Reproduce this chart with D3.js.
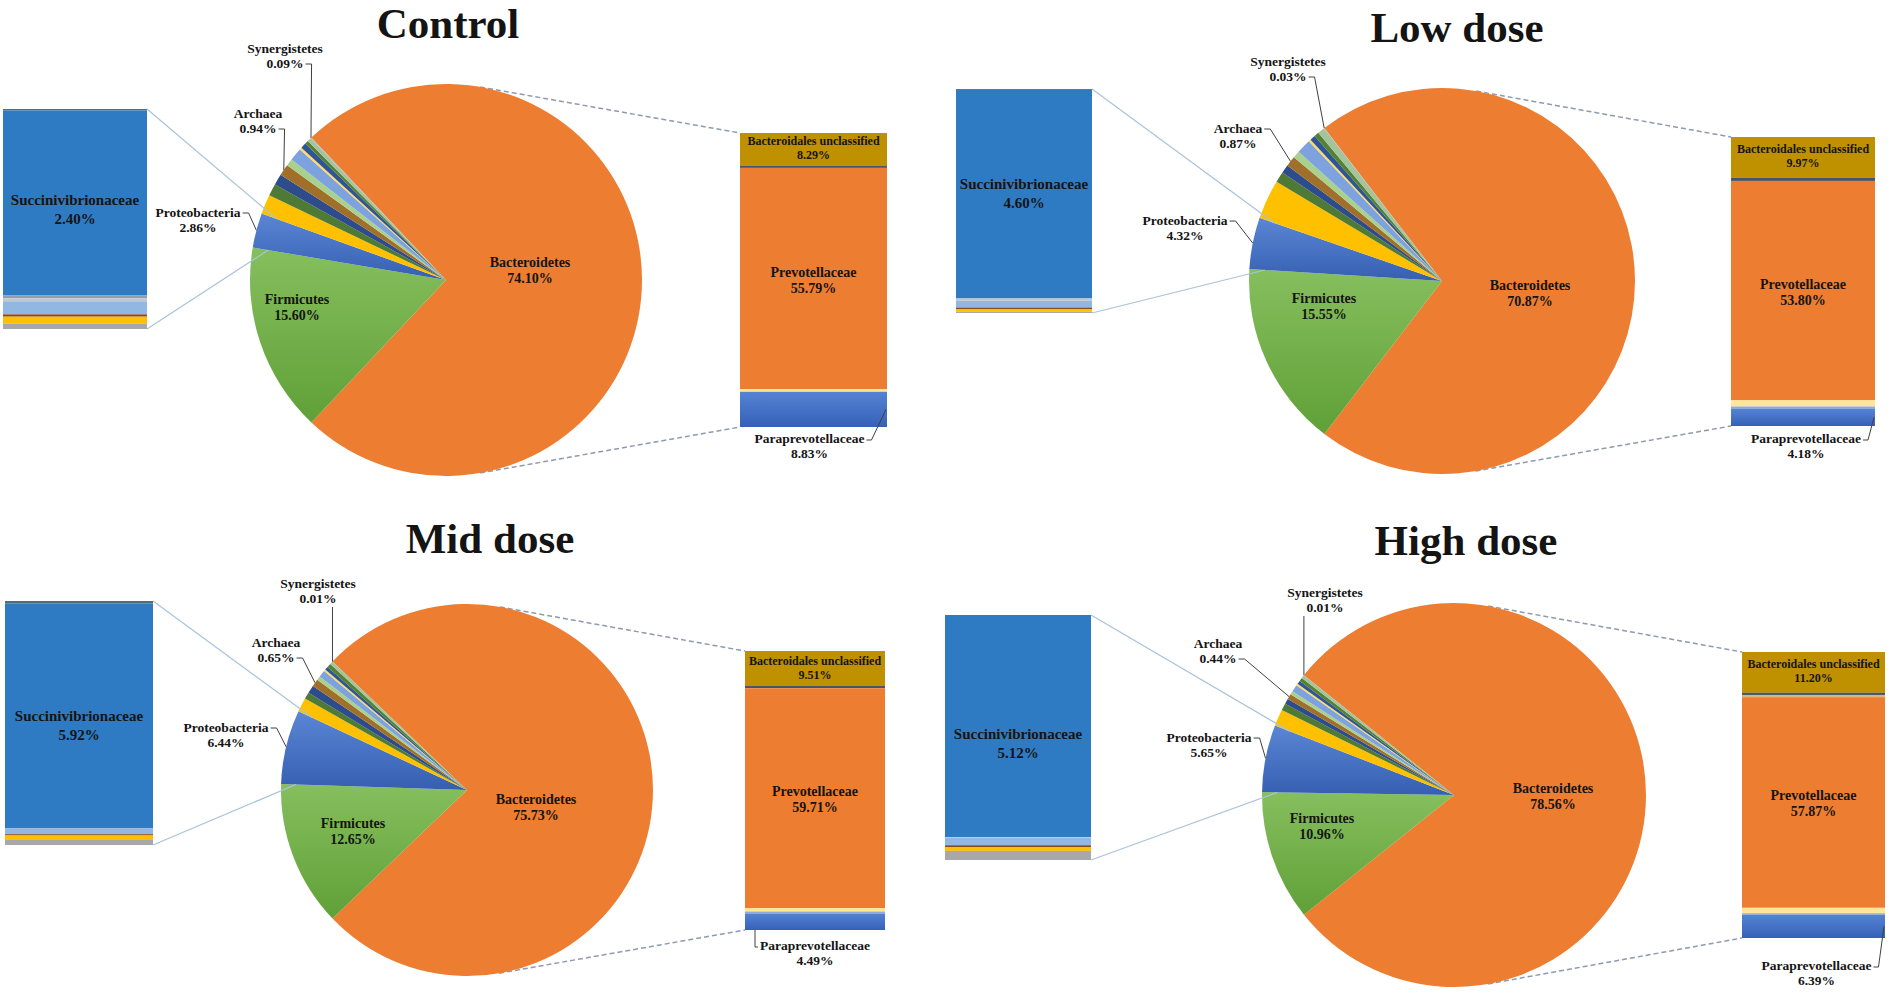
<!DOCTYPE html>
<html>
<head>
<meta charset="utf-8">
<script src="https://cdn.jsdelivr.net/npm/d3@7"></script>
<style>
  body { margin: 0; background: #fff; }
  text { font-family: "Liberation Serif", "Times New Roman", serif; font-weight: bold; fill: #141414; }
</style>
</head>
<body>
<svg id="chart"></svg>
<script>
// ---- data (percent of reads) ----
const groups = ['Control', 'Low dose', 'Mid dose', 'High dose']

// phyla, clockwise starting with Bacteroidetes (unlabelled phyla are the thin slices)
const phyla = ['Bacteroidetes', 'Firmicutes', 'Proteobacteria', 'Other phylum 1', 'Other phylum 2',
  'Other phylum 3', 'Archaea', 'Other phylum 4', 'Other phylum 5', 'Other phylum 6',
  'Other phylum 7', 'Other phylum 8', 'Other phylum 9', 'Synergistetes']
const controlPhyla = [74.10, 15.60, 2.86, 1.60, 1.00, 0.90, 0.94, 0.60, 1.05, 0.20, 0.45, 0.30, 0.31, 0.09]
const lowPhyla     = [70.87, 15.55, 4.32, 3.30, 0.90, 0.70, 0.87, 0.60, 1.20, 0.20, 0.45, 0.40, 0.61, 0.03]
const midPhyla     = [75.73, 12.65, 6.44, 1.22, 0.58, 0.70, 0.65, 0.35, 0.60, 0.15, 0.30, 0.35, 0.27, 0.01]
const highPhyla    = [78.56, 10.96, 5.65, 1.40, 0.60, 0.45, 0.44, 0.30, 0.60, 0.15, 0.30, 0.30, 0.28, 0.01]

// Bacteroidetes split (right bar), top to bottom
const bacteroidetesFamilies = ['Bacteroidales unclassified', 'Other B1', 'Other B2', 'Prevotellaceae',
  'Other B3', 'Other B4', 'Paraprevotellaceae']
const controlBacteroidetes = [8.29, 0.50, 0.00, 55.79, 0.60, 0.09, 8.83]
const lowBacteroidetes     = [9.97, 0.80, 0.00, 53.80, 1.52, 0.60, 4.18]
const midBacteroidetes     = [9.51, 0.60, 0.00, 59.71, 0.90, 0.52, 4.49]
const highBacteroidetes    = [11.20, 0.60, 0.60, 57.87, 1.50, 0.40, 6.39]

// Proteobacteria split (left bar), top to bottom
const proteoFamilies = ['Other P1', 'Succinivibrionaceae', 'Other P2', 'Other P3', 'Other P4',
  'Other P5', 'Other P6', 'Other P7']
const controlProteo = [0.02, 2.40, 0.04, 0.04, 0.17, 0.03, 0.09, 0.07]
const lowProteo     = [0.02, 4.60, 0.00, 0.05, 0.15, 0.04, 0.05, 0.03]
const midProteo     = [0.07, 5.92, 0.00, 0.00, 0.16, 0.035, 0.10, 0.15]
const highProteo    = [0.00, 5.12, 0.00, 0.02, 0.17, 0.05, 0.08, 0.21]

const phylaByGroup = [controlPhyla, lowPhyla, midPhyla, highPhyla]
const bactByGroup = [controlBacteroidetes, lowBacteroidetes, midBacteroidetes, highBacteroidetes]
const proteoByGroup = [controlProteo, lowProteo, midProteo, highProteo]

// ---- styles ----
const phylumColors = ['#ED7D31', 'url(#g-firm)', 'url(#g-proteo)', '#FFC000', '#4E7A35', '#2E4C8C',
  '#A0702A', '#A9D18E', '#7DA2DE', '#FFD966', '#2F5597', '#548235', '#A5C49B', '#B4B4B4']
const bactColors = ['#BF9000', '#44546A', '#D9B77A', '#ED7D31', '#FFE699', '#8FAADC', 'url(#g-para)']
const proteoColors = ['#4E6E7A', '#2E7BC3', '#8E9FB0', '#C3C8CE', '#92B7E3', '#8B4A1C', '#FFC000', '#A8A8A8']

// ---- layout (pixels) ----
// bac / fir: label offset from pie centre [dx, first baseline dy]
const layout = [
  { title: [448, 38], pie: [446, 280, 196], left: [3, 109, 144, 220], right: [740, 133, 147, 294],
    bac: [84, -13], fir: [-149, 24], succDy: 2.5, paraDx: -4, paraDy: 16, paraSide: 'r',
    callouts: { Proteobacteria: [-248, -63, 'r1'], Archaea: [-188, -162, 'r2'], Synergistetes: [-161, -227, 'r2'] } },
  { title: [1457, 42], pie: [1442, 281, 193], left: [956, 89, 136, 224], right: [1731, 137, 144, 289],
    bac: [88, 9], fir: [-118, 22], succDy: -5.5, paraDx: 3, paraDy: 17, paraSide: 'r',
    callouts: { Proteobacteria: [-257, -56, 'r1'], Archaea: [-204, -148, 'r1'], Synergistetes: [-154, -215, 'r2'] } },
  { title: [490, 553], pie: [467, 790, 186], left: [5, 601, 148, 244], right: [745, 651, 140, 279],
    bac: [69, 14], fir: [-114, 38], succDy: 5.5, paraDx: 0, paraDy: 20, paraSide: 'l',
    callouts: { Proteobacteria: [-241, -58, 'r1'], Archaea: [-191, -143, 'r2'], Synergistetes: [-149, -202, 'b'] } },
  { title: [1466, 555], pie: [1454, 795, 192], left: [945, 615, 146, 245], right: [1742, 652, 143, 286],
    bac: [99, -2], fir: [-132, 28], succDy: 12.5, paraDx: 3, paraDy: 32, paraSide: 'r',
    callouts: { Proteobacteria: [-245, -53, 'r1'], Archaea: [-236, -147, 'r2'], Synergistetes: [-129, -198, 'b'] } }
]

const W = 1900, H = 1001
const svg = d3.select('#chart').attr('width', W).attr('height', H)
svg.append('rect').attr('width', W).attr('height', H).attr('fill', '#fff')

const defs = svg.append('defs')
function gradient(id, top, bottom) {
  const lg = defs.append('linearGradient').attr('id', id)
    .attr('x1', 0).attr('y1', 0).attr('x2', 0).attr('y2', 1)
  lg.append('stop').attr('offset', '0%').attr('stop-color', top)
  lg.append('stop').attr('offset', '100%').attr('stop-color', bottom)
}
gradient('g-firm', '#86BF5E', '#60A038')
gradient('g-proteo', '#5A86D4', '#365FB2')
gradient('g-para', '#5583D3', '#3560B8')

function twoLines(sel, x, y, a, b, size, gap) {
  const t = sel.append('text').attr('x', x).attr('y', y).attr('text-anchor', 'middle')
    .style('font-size', size + 'px')
  t.append('tspan').attr('x', x).text(a)
  t.append('tspan').attr('x', x).attr('dy', gap).text(b)
  return t
}
const pct = v => v.toFixed(2) + '%'

groups.forEach((name, i) => drawPanel(i))

function drawPanel(i) {
  const L = layout[i]
  const [cx, cy, r] = L.pie
  const vals = phylaByGroup[i]
  const g = svg.append('g').attr('class', 'panel')

  g.append('text').attr('x', L.title[0]).attr('y', L.title[1])
    .attr('text-anchor', 'middle').style('font-size', '43px').text(groups[i])

  // Bacteroidetes slice is centred on 3 o'clock
  const total = d3.sum(vals)
  const a0 = Math.PI / 2 - Math.PI * vals[0] / total
  const pie = d3.pie().sort(null).value(d => d.v).startAngle(a0).endAngle(a0 + 2 * Math.PI)
  const arcs = pie(phyla.map((p, k) => ({ name: p, v: vals[k], color: phylumColors[k] })))
  const arc = d3.arc().innerRadius(0).outerRadius(r)
  const pt = (a, rad) => [cx + rad * Math.sin(a), cy - rad * Math.cos(a)]
  const byName = n => arcs.find(d => d.data.name === n)

  // dashed tangents from the pie to the Bacteroidetes bar
  const [rx, ry, rw, rh] = L.right
  function tangent(px, py, upper) {
    const dx = px - cx, dy = py - cy
    const d = Math.hypot(dx, dy), phi = Math.atan2(dy, dx), al = Math.acos(r / d)
    const c = [phi - al, phi + al].map(t => [cx + r * Math.cos(t), cy + r * Math.sin(t)])
    return upper ? (c[0][1] < c[1][1] ? c[0] : c[1]) : (c[0][1] > c[1][1] ? c[0] : c[1])
  }
  const line = d3.line()
  g.append('path').attr('d', line([tangent(rx, ry, true), [rx, ry]]))
    .attr('fill', 'none').attr('stroke', '#8E9AAE').attr('stroke-width', 1.5).attr('stroke-dasharray', '5,3')
  g.append('path').attr('d', line([tangent(rx, ry + rh, false), [rx, ry + rh]]))
    .attr('fill', 'none').attr('stroke', '#8E9AAE').attr('stroke-width', 1.5).attr('stroke-dasharray', '5,3')

  g.append('g').attr('transform', `translate(${cx},${cy})`)
    .selectAll('path').data(arcs).join('path')
    .attr('d', arc).attr('fill', d => d.data.color)

  // Proteobacteria connectors to the left bar
  const [lx, ly, lw, lh] = L.left
  const pro = byName('Proteobacteria')
  g.append('path').attr('d', line([[lx + lw, ly], pt(pro.endAngle, 0.92 * r)]))
    .attr('stroke', '#A9C3DA').attr('stroke-width', 1.2).attr('fill', 'none')
  g.append('path').attr('d', line([[lx + lw, ly + lh], pt(pro.startAngle, 0.92 * r)]))
    .attr('stroke', '#A9C3DA').attr('stroke-width', 1.2).attr('fill', 'none')

  // inside labels
  const bac = arcs[0], fir = arcs[1]
  twoLines(g, cx + L.bac[0], cy + L.bac[1], 'Bacteroidetes', pct(bac.data.v), 14, 16)
  twoLines(g, cx + L.fir[0], cy + L.fir[1], 'Firmicutes', pct(fir.data.v), 14, 16)

  // callout labels with leader lines
  Object.entries(L.callouts).forEach(([n, [ox, oy, anchor]]) => {
    const d = byName(n)
    const x = cx + ox, y = cy + oy
    const t = twoLines(g, x, y, n, pct(d.data.v), 13.5, 15)
    const spans = t.selectAll('tspan').nodes()
    const target = pt((d.startAngle + d.endAngle) / 2, r)
    let pts
    if (anchor === 'b') {
      pts = [[target[0], y + 19], target]
    } else {
      const k = anchor === 'r1' ? 0 : 1
      const x0 = x + spans[k].getComputedTextLength() / 2 + 2
      const y0 = y + k * 15 - 4
      pts = [[x0, y0], [x0 + 6, y0], target]
    }
    g.append('path').attr('d', line(pts)).attr('fill', 'none')
      .attr('stroke', '#404040').attr('stroke-width', 1)
  })

  // left bar: Proteobacteria families
  const pv = proteoByGroup[i]
  const py = d3.scaleLinear().domain([0, d3.sum(pv)]).range([ly, ly + lh])
  const pc = [0, ...d3.cumsum(pv)]
  g.append('g').selectAll('rect').data(pv).join('rect')
    .attr('x', lx).attr('width', lw)
    .attr('y', (v, k) => py(pc[k])).attr('height', (v, k) => py(pc[k + 1]) - py(pc[k]))
    .attr('fill', (v, k) => proteoColors[k])
  const si = proteoFamilies.indexOf('Succinivibrionaceae')
  const sc = (py(pc[si]) + py(pc[si + 1])) / 2
  twoLines(g, lx + lw / 2, sc + L.succDy, 'Succinivibrionaceae', pct(pv[si]), 15, 19)

  // right bar: Bacteroidetes families
  const bv = bactByGroup[i]
  const by = d3.scaleLinear().domain([0, d3.sum(bv)]).range([ry, ry + rh])
  const bc = [0, ...d3.cumsum(bv)]
  g.append('g').selectAll('rect').data(bv).join('rect')
    .attr('x', rx).attr('width', rw)
    .attr('y', (v, k) => by(bc[k])).attr('height', (v, k) => by(bc[k + 1]) - by(bc[k]))
    .attr('fill', (v, k) => bactColors[k])
  const mid = k => (by(bc[k]) + by(bc[k + 1])) / 2
  const ui = bacteroidetesFamilies.indexOf('Bacteroidales unclassified')
  twoLines(g, rx + rw / 2, mid(ui) - 4, 'Bacteroidales unclassified', pct(bv[ui]), 12, 14)
  const vi = bacteroidetesFamilies.indexOf('Prevotellaceae')
  twoLines(g, rx + rw / 2, mid(vi) - 2, 'Prevotellaceae', pct(bv[vi]), 14, 16)
  const ai = bacteroidetesFamilies.indexOf('Paraprevotellaceae')
  const tx = rx + rw / 2 + L.paraDx, ty = ry + rh + L.paraDy
  const pt2 = twoLines(g, tx, ty, 'Paraprevotellaceae', pct(bv[ai]), 13.5, 15)
  const tw = pt2.select('tspan').node().getComputedTextLength()
  let lead
  if (L.paraSide === 'r') {
    lead = [[tx + tw / 2 + 2, ty - 3], [tx + tw / 2 + 7, ty - 3], [rx + rw - 1, mid(ai)]]
  } else {
    lead = [[tx - tw / 2 - 2, ty - 3], [rx + 10, ty - 3], [rx + 10, ry + rh]]
  }
  g.append('path').attr('d', line(lead)).attr('fill', 'none')
    .attr('stroke', '#404040').attr('stroke-width', 1)
}
</script>
</body>
</html>
